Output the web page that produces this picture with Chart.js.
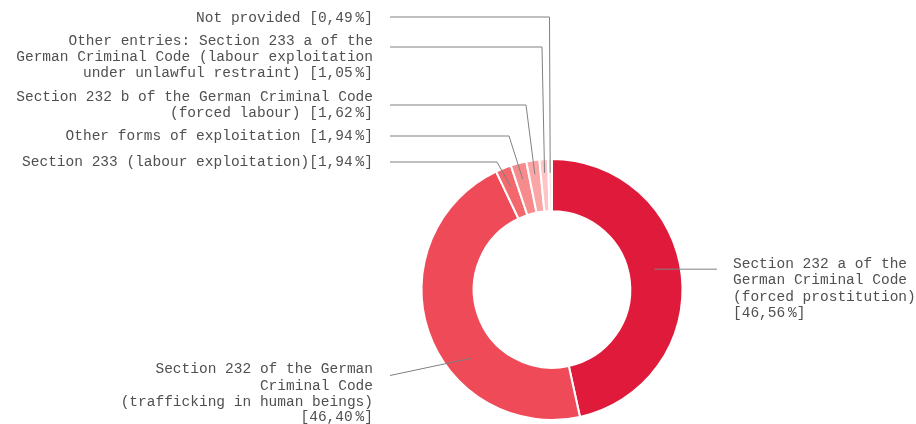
<!DOCTYPE html>
<html>
<head>
<meta charset="utf-8">
<script src="https://cdn.jsdelivr.net/npm/chart.js@4/dist/chart.umd.min.js"></script>
<style>
  html, body { margin: 0; padding: 0; background: #ffffff; }
  #wrap { position: relative; width: 916px; height: 424px; }
</style>
</head>
<body>
<div id="wrap"><canvas id="c"></canvas></div>
<script>
// ---- data ----
const categories = [
  "Section 232 a of the German Criminal Code (forced prostitution)",
  "Section 232 of the German Criminal Code (trafficking in human beings)",
  "Section 233 (labour exploitation)",
  "Other forms of exploitation",
  "Section 232 b of the German Criminal Code (forced labour)",
  "Other entries: Section 233 a of the German Criminal Code (labour exploitation under unlawful restraint)",
  "Not provided"
];
const shares = [46.56, 46.40, 1.94, 1.94, 1.62, 1.05, 0.49];
const labelLines = [
  ["Section 232 a of the", "German Criminal Code", "(forced prostitution)", "[{p}]"],
  ["Section 232 of the German", "Criminal Code", "(trafficking in human beings)", "[{p}]"],
  ["Section 233 (labour exploitation)[{p}]"],
  ["Other forms of exploitation [{p}]"],
  ["Section 232 b of the German Criminal Code", "(forced labour) [{p}]"],
  ["Other entries: Section 233 a of the", "German Criminal Code (labour exploitation", "under unlawful restraint) [{p}]"],
  ["Not provided [{p}]"]
];
const sliceColors = ["#e01a3b", "#ee4a57", "#f2686d", "#f78b8b", "#fba6a6", "#fdc5c5", "#fee2e2"];

// ---- label layout (annotation placement) ----
const labelLayout = [
  { frac: 0.47, rfrac: 0.50, elbow: null, end: [717, null], align: "left",  x: 733, ys: [264, 280.5, 297, 313.5] },
  { frac: 0.37, rfrac: 0.52, elbow: null, end: [390, 375.5], align: "right", x: 373, ys: [369.5, 386, 402, 417.5] },
  { frac: 0.50, rfrac: 0.63, elbow: [497, 162], end: [390, 162], align: "right", x: 373, ys: [162.5] },
  { frac: 0.50, rfrac: 0.69, elbow: [509, 136], end: [390, 136], align: "right", x: 373, ys: [136.5] },
  { frac: 0.50, rfrac: 0.73, elbow: [526, 105], end: [390, 105], align: "right", x: 373, ys: [97.5, 113.5] },
  { frac: 0.50, rfrac: 0.74, elbow: [542, 47], end: [390, 47], align: "right", x: 373, ys: [41.5, 57.5, 73] },
  { frac: 0.50, rfrac: 0.74, elbow: [549.5, 17], end: [390, 17], align: "right", x: 373, ys: [18] }
];

function fmtPct(v) { return v.toFixed(2).replace('.', ',') + '\u2009%'; }

const leaderPlugin = {
  id: 'leaders',
  afterDraw(chart) {
    const ctx = chart.ctx;
    const meta = chart.getDatasetMeta(0);
    ctx.save();
    meta.data.forEach((arc, i) => {
      const L = labelLayout[i];
      const p = arc.getProps(['x', 'y', 'startAngle', 'endAngle', 'innerRadius', 'outerRadius'], true);
      const a = p.startAngle + L.frac * (p.endAngle - p.startAngle);
      const r = p.innerRadius + L.rfrac * (p.outerRadius - p.innerRadius);
      const ax = p.x + Math.cos(a) * r;
      const ay = p.y + Math.sin(a) * r;
      ctx.strokeStyle = '#808080';
      ctx.lineWidth = 1;
      ctx.beginPath();
      ctx.moveTo(ax, ay);
      if (L.elbow) ctx.lineTo(L.elbow[0], L.elbow[1]);
      ctx.lineTo(L.end[0], L.end[1] === null ? ay : L.end[1]);
      ctx.stroke();
      ctx.fillStyle = '#505050';
      ctx.font = '14.5px "Liberation Mono", "DejaVu Sans Mono", monospace';
      ctx.textAlign = L.align;
      ctx.textBaseline = 'middle';
      labelLines[i].forEach((t, k) => {
        ctx.fillText(t.replace('{p}', fmtPct(shares[i])), L.x, L.ys[k]);
      });
    });
    ctx.restore();
  }
};

new Chart(document.getElementById('c'), {
  type: 'doughnut',
  data: {
    labels: categories,
    datasets: [{
      data: shares,
      backgroundColor: sliceColors,
      borderColor: '#ffffff',
      borderWidth: 2
    }]
  },
  options: {
    responsive: true,
    maintainAspectRatio: false,
    animation: false,
    cutout: '60%',
    layout: { padding: { left: 300, right: 112, top: 158, bottom: 3 } },
    plugins: { legend: { display: false }, tooltip: { enabled: false } }
  },
  plugins: [leaderPlugin]
});
</script>
</body>
</html>
